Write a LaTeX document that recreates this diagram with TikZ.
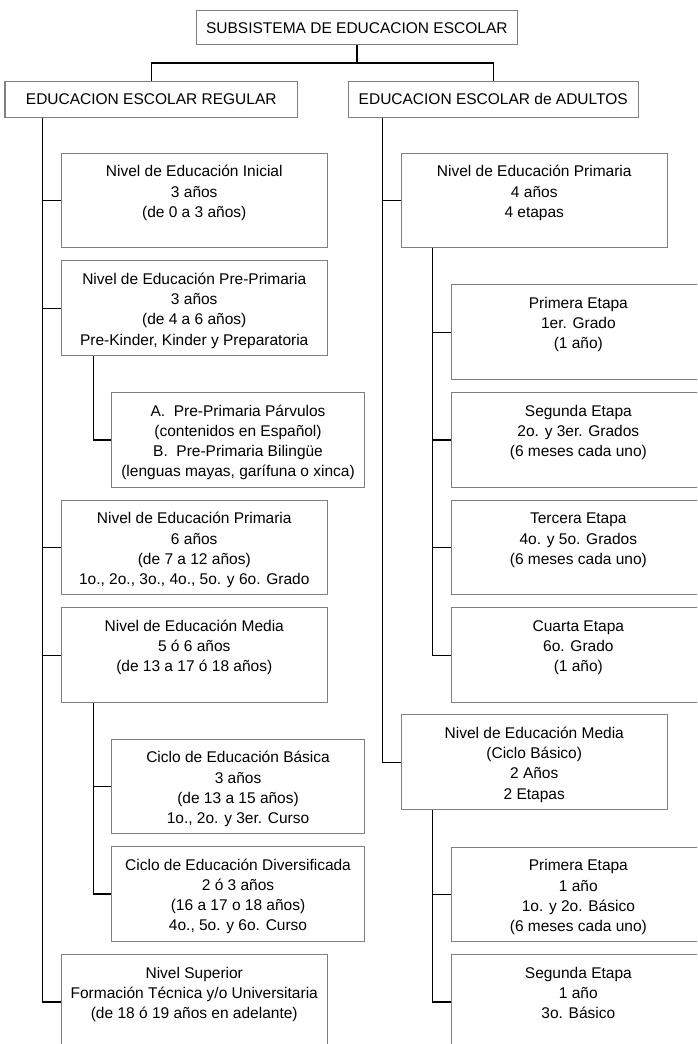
\documentclass[tikz,border=0pt]{standalone}
\usepackage{fontspec}
\setmainfont{Liberation Sans}
\definecolor{boxgray}{RGB}{128,128,128}
\begin{document}
\begin{tikzpicture}[x=1pt,y=-1pt,
  box/.style={draw=boxgray, line width=1.1pt, inner sep=0pt, anchor=north west, minimum height=94.6pt},
  lbox/.style={box, minimum width=266pt},
  sbox/.style={box, minimum width=253pt},
  hbox/.style={draw=boxgray, line width=1.1pt, inner sep=0pt, anchor=north west, font=\fontsize{15.5}{20.2}\selectfont},
  txt/.style={anchor=north, inner sep=0pt, align=center, font=\fontsize{15.5}{20.2}\selectfont},
  conn/.style={draw=black, line width=1.3pt}]
\useasboundingbox (0,0) rectangle (697,1044);
\clip (0,0) rectangle (697,1044);
% header boxes
\node[hbox, minimum width=321.4pt, minimum height=34.3pt] (top) at (195.6,10) {SUBSISTEMA DE EDUCACION ESCOLAR};
\node[hbox, minimum width=292.6pt, minimum height=35.7pt] (reg) at (4.4,81) {EDUCACION ESCOLAR REGULAR};
\node[hbox, minimum width=290.2pt, minimum height=35.7pt] (adu) at (347.6,81) {EDUCACION ESCOLAR de ADULTOS};
% left column
\node[lbox] (ini) at (60.7,152.7) {};
\node[lbox] (pre) at (60.7,260.3) {};
\node[sbox] (ab) at (111,392) {};
\node[lbox] (pri) at (60.7,499.7) {};
\node[lbox] (med) at (60.7,607.3) {};
\node[sbox] (bas) at (111,738.7) {};
\node[sbox] (div) at (111,846) {};
\node[lbox] (sup) at (60.7,954) {};
% right column
\node[lbox] (apri) at (400.7,152.7) {};
\node[sbox] (e1) at (451.3,284.3) {};
\node[sbox] (e2) at (451.3,392) {};
\node[sbox] (e3) at (451.3,499.7) {};
\node[sbox] (e4) at (451.3,607.3) {};
\node[lbox] (amed) at (400.7,714.3) {};
\node[sbox] (m1) at (451.3,846.7) {};
\node[sbox] (m2) at (451.3,954) {};
% texts
\node[txt] (tini) at ([yshift=-9.9pt]ini.north) {\strut Nivel de Educación Inicial\\3 años\\(de 0 a 3 años)};
\node[txt] (tpre) at ([yshift=-9.9pt]pre.north) {\strut Nivel de Educación Pre-Primaria\\3 años\\(de 4 a 6 años)\\Pre-Kinder, Kinder y Preparatoria};
\node[txt] (tab) at ([yshift=-9.9pt]ab.north) {\strut A.\ \ Pre-Primaria Párvulos\\(contenidos en Español)\\B.\ \ Pre-Primaria Bilingüe\\(lenguas mayas, garífuna o xinca)};
\node[txt] (tpri) at ([yshift=-9.9pt]pri.north) {\strut Nivel de Educación Primaria\\6 años\\(de 7 a 12 años)\\1o., 2o., 3o., 4o., 5o. y 6o. Grado};
\node[txt] (tmed) at ([yshift=-9.9pt]med.north) {\strut Nivel de Educación Media\\5 ó 6 años\\(de 13 a 17 ó 18 años)};
\node[txt] (tbas) at ([yshift=-9.9pt]bas.north) {\strut Ciclo de Educación Básica\\3 años\\(de 13 a 15 años)\\1o., 2o. y 3er. Curso};
\node[txt] (tdiv) at ([yshift=-9.9pt]div.north) {\strut Ciclo de Educación Diversificada\\2 ó 3 años\\(16 a 17 o 18 años)\\4o., 5o. y 6o. Curso};
\node[txt] (tsup) at ([yshift=-9.9pt]sup.north) {\strut Nivel Superior\\Formación Técnica y/o Universitaria\\(de 18 ó 19 años en adelante)};
\node[txt] (tapri) at ([yshift=-9.9pt]apri.north) {\strut Nivel de Educación Primaria\\4 años\\4 etapas};
\node[txt] (te1) at ([yshift=-9.9pt]e1.north) {\strut Primera Etapa\\1er. Grado\\(1 año)};
\node[txt] (te2) at ([yshift=-9.9pt]e2.north) {\strut Segunda Etapa\\2o. y 3er. Grados\\(6 meses cada uno)};
\node[txt] (te3) at ([yshift=-9.9pt]e3.north) {\strut Tercera Etapa\\4o. y 5o. Grados\\(6 meses cada uno)};
\node[txt] (te4) at ([yshift=-9.9pt]e4.north) {\strut Cuarta Etapa\\6o. Grado\\(1 año)};
\node[txt] (tamed) at ([yshift=-9.9pt]amed.north) {\strut Nivel de Educación Media\\(Ciclo Básico)\\2 Años\\2 Etapas};
\node[txt] (tm1) at ([yshift=-9.9pt]m1.north) {\strut Primera Etapa\\1 año\\1o. y 2o. Básico\\(6 meses cada uno)};
\node[txt] (tm2) at ([yshift=-9.9pt]m2.north) {\strut Segunda Etapa\\1 año\\3o. Básico};
% header connectors
\coordinate (bus) at ([yshift=-17.7pt]top.south);
\draw[conn] (top.south) -- (bus);
\draw[conn] (reg.north) -- (reg.north |- bus) -- (adu.north |- bus) -- (adu.north);
% left trunk
\coordinate (lt) at ([xshift=38.1pt]reg.south west);
\draw[conn] (lt) |- (sup.west);
\foreach \n in {ini,pre,pri,med} \draw[conn] (lt |- \n.west) -- (\n.west);
\coordinate (lpp) at ([xshift=32.6pt]pre.south west);
\draw[conn] (lpp) |- (ab.west);
\coordinate (lmd) at ([xshift=32.6pt]med.south west);
\draw[conn] (lmd) |- (div.west);
\draw[conn] (lmd |- bas.west) -- (bas.west);
% right trunk
\coordinate (rt) at ([xshift=35pt]adu.south west);
\draw[conn] (rt) |- (amed.west);
\draw[conn] (rt |- apri.west) -- (apri.west);
\coordinate (rpr) at ([xshift=32pt]apri.south west);
\draw[conn] (rpr) |- (e4.west);
\foreach \n in {e1,e2,e3} \draw[conn] (rpr |- \n.west) -- (\n.west);
\coordinate (rmd) at ([xshift=32pt]amed.south west);
\draw[conn] (rmd) |- (m2.west);
\draw[conn] (rmd |- m1.west) -- (m1.west);
\end{tikzpicture}
\end{document}
